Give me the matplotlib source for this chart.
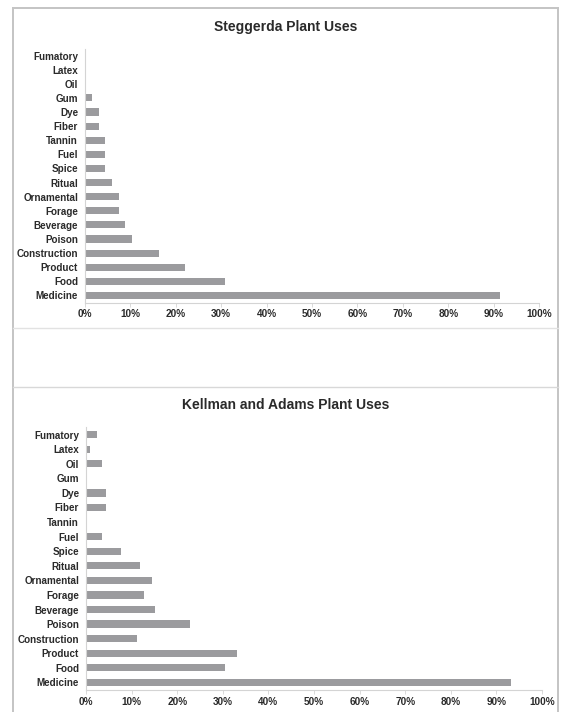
import matplotlib
matplotlib.use("Agg")
import matplotlib.pyplot as plt
from matplotlib.lines import Line2D
from matplotlib.ticker import FuncFormatter

plt.rcParams['font.family'] = ['Liberation Sans', 'DejaVu Sans']

categories = ["Medicine", "Food", "Product", "Construction", "Poison", "Beverage",
              "Forage", "Ornamental", "Ritual", "Spice", "Fuel", "Tannin",
              "Fiber", "Dye", "Gum", "Oil", "Latex", "Fumatory"]

steggerda = [91.3, 30.9, 22.1, 16.2, 10.3, 8.9, 7.4, 7.4, 5.9, 4.5, 4.5, 4.5,
             3.0, 3.0, 1.5, 0.0, 0.0, 0.0]

kellman_adams = [93.3, 30.5, 33.1, 11.2, 22.9, 15.2, 12.7, 14.4, 11.9, 7.6, 3.4, 0.0,
                 4.3, 4.3, 0.0, 3.4, 0.8, 2.5]

titles = ["Steggerda Plant Uses", "Kellman and Adams Plant Uses"]
xticks = [0, 10, 20, 30, 40, 50, 60, 70, 80, 90, 100]

W, H = 562, 712
fig = plt.figure(figsize=(W / 100, H / 100), dpi=100)
fig.patch.set_facecolor("white")

BAR = "#9b9b9e"
AX = "#d4d4d4"
TXT = "#2a2a2a"


def px_rect(l, t, r, b):
    return [l / W, 1 - b / H, (r - l) / W, (b - t) / H]


def draw(ax, vals, title, title_y):
    ys = range(len(categories))
    ax.barh(ys, vals, height=0.5, color=BAR, edgecolor="none")
    ax.set_ylim(-0.5, len(categories) - 0.5)
    ax.set_xlim(0, 100)
    ax.set_yticks(list(ys))
    ax.set_yticklabels(categories, fontsize=7.1, fontweight="bold", color=TXT)
    ax.set_xticks(xticks)
    ax.xaxis.set_major_formatter(FuncFormatter(lambda v, p: f"{int(v)}%"))
    for lab in ax.get_xticklabels():
        lab.set_fontsize(7.2)
        lab.set_fontweight("bold")
        lab.set_color(TXT)
    ax.tick_params(axis="y", length=0, pad=5)
    ax.tick_params(axis="x", length=3, width=0.6, color=AX, pad=2)
    for s in ["top", "right"]:
        ax.spines[s].set_visible(False)
    for s in ["left", "bottom"]:
        ax.spines[s].set_color(AX)
        ax.spines[s].set_linewidth(0.8)
    fig.text(0.5 * (13 + 558) / W, 1 - title_y / H, title, ha="center", va="center",
             fontsize=10, fontweight="bold", color=TXT)


ax1 = fig.add_axes(px_rect(85, 48.5, 539, 302.5))
draw(ax1, steggerda, titles[0], 27)

ax2 = fig.add_axes(px_rect(86, 427.3, 542, 689.7))
draw(ax2, kellman_adams, titles[1], 405)

# frame lines
frame = "#c4c4c4"
fig.add_artist(Line2D([13 / W, 13 / W], [1 - 8 / H, 0], color=frame, lw=1.4))
fig.add_artist(Line2D([558 / W, 558 / W], [1 - 8 / H, 0], color=frame, lw=1.4))
fig.add_artist(Line2D([13 / W, 558 / W], [1 - 8 / H, 1 - 8 / H], color=frame, lw=1.4))
fig.add_artist(Line2D([13 / W, 558 / W], [1 - 328 / H, 1 - 328 / H], color="#e2e2e2", lw=1.0))
fig.add_artist(Line2D([13 / W, 558 / W], [1 - 387 / H, 1 - 387 / H], color="#d8d8d8", lw=1.0))

fig.savefig("out.png", dpi=100, facecolor="white")
